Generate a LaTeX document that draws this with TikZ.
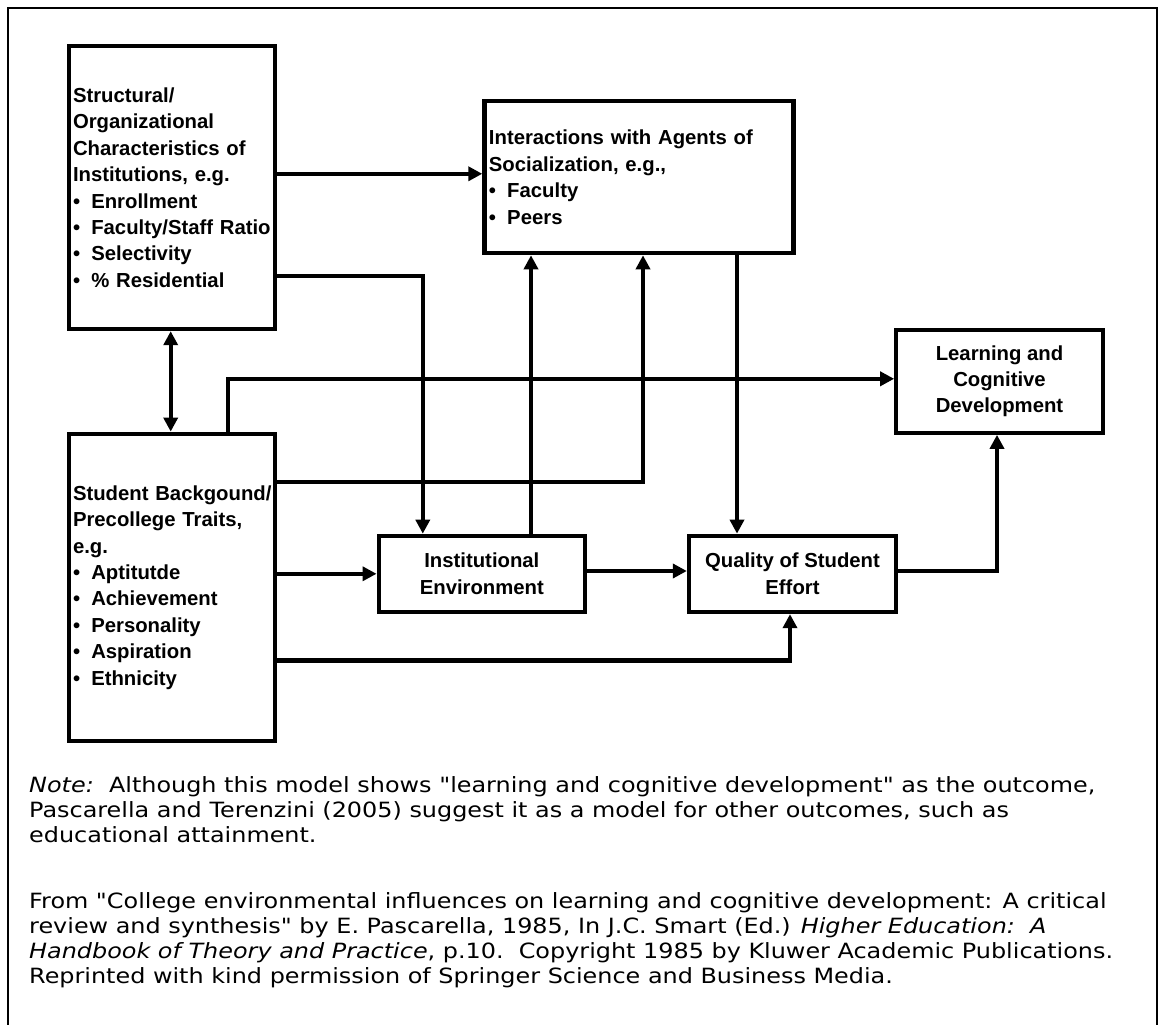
\documentclass[tikz,border=0pt]{standalone}
\usepackage{fontspec}
\setmainfont{Liberation Sans}
\newfontfamily\notefont[FakeStretch=1.138]{DejaVu Sans}
\usetikzlibrary{arrows.meta}
\newcommand{\bul}{\makebox[18.3pt][l]{\textbullet}}

\begin{document}
\begin{tikzpicture}[x=1pt,y=-1pt,
  box/.style={draw, line width=4.3pt, rectangle, inner xsep=4.3pt, inner ysep=0pt,
    font=\fontsize{20.3}{26.4}\selectfont\bfseries},
  listbox/.style={box, align=left, text width=197.4pt},
  midbox/.style={box, align=center},
  tip/.tip={Triangle[length=14pt,width=14pt]},
  link/.style={line width=4.3pt, -tip},
  both/.style={line width=4.3pt, tip-tip},
  notetext/.style={anchor=base west, inner sep=0pt, font=\notefont\fontsize{21}{25}\selectfont}
]
\useasboundingbox (0,0) rectangle (1160,1025);

% outer frame, open at the foot of the page
\draw[line width=2pt] (8,1030) -- (8,8) -- (1157,8) -- (1157,1030);

% boxes
\node[listbox, minimum width=206pt, minimum height=282.7pt] (struct) at (171.7,187.7)
  {Structural/\\Organizational\\\mbox{Characteristics of}\\Institutions, e.g.\\
   \bul Enrollment\\\mbox{\bul Faculty/Staff Ratio}\\\bul Selectivity\\\bul \% Residential};
\node[listbox, minimum width=206pt, minimum height=307.3pt] (student) at (171.7,587.4)
  {\mbox{Student Backgound/}\\Precollege Traits,\\e.g.\\
   \bul Aptitutde\\\bul Achievement\\\bul Personality\\\bul Aspiration\\\bul Ethnicity};
\node[box, align=left, text width=300pt, minimum width=309pt, minimum height=152pt,
      anchor=north west] (inter) at (482.3,99)
  {Interactions with Agents of\\Socialization, e.g.,\\\bul Faculty\\\bul Peers};
\node[midbox, minimum width=206.3pt, minimum height=76.2pt] (inst) at (481.85,573.9)
  {Institutional\\Environment};
\node[midbox, minimum width=207pt, minimum height=76.2pt] (effort) at (792.5,573.9)
  {Quality of Student\\Effort};
\node[midbox, minimum width=206.4pt, minimum height=103pt] (learn) at (999.5,381.2)
  {Learning and\\Cognitive\\Development};

% connectors
\draw[link] (struct.east |- 0,173.8) -- (inter.west |- 0,173.8);
\draw[link] (struct.east |- 0,276.2) -| (inst.north -| 422.8,0);
\draw[both] (struct.south -| 170.7,0) -- (student.north -| 170.7,0);
\draw[link] (student.north -| 227.7,0) |- (learn.west |- 0,378.8);
\draw[link] (student.east |- 0,482) -| (inter.south -| 643,0);
\draw[link] (inst.north -| 531,0) -- (inter.south -| 531,0);
\draw[link] (inter.south -| 737,0) -- (effort.north -| 737,0);
\draw[link] (student.east |- 0,573.8) -- (inst.west |- 0,573.8);
\draw[link] (inst.east |- 0,571) -- (effort.west |- 0,571);
\draw[link] (student.east |- 0,660.5) -| (effort.south -| 790,0);
\draw[link] (effort.east |- 0,571) -| (learn.south -| 997,0);

% note and source
\node[notetext] (n1) at (29,792) {\textit{Note:}\ \ Although this model shows "learning and cognitive development" as the outcome,};
\node[notetext] (n2) at (29,817) {Pascarella and Terenzini (2005) suggest it as a model for other outcomes, such as};
\node[notetext] (n3) at (29,842) {educational attainment.};
\node[notetext] (s1) at (29,908) {From "College environmental influences on learning and cognitive development: A critical};
\node[notetext] (s2) at (29,933) {review and synthesis" by E. Pascarella, 1985, In J.C. Smart (Ed.) \textit{Higher Education:\ \ A}};
\node[notetext] (s3) at (29,958) {\textit{Handbook of Theory and Practice}, p.10.\ \ Copyright 1985 by Kluwer Academic Publications.};
\node[notetext] (s4) at (29,983) {Reprinted with kind permission of Springer Science and Business Media.};
\end{tikzpicture}
\end{document}
